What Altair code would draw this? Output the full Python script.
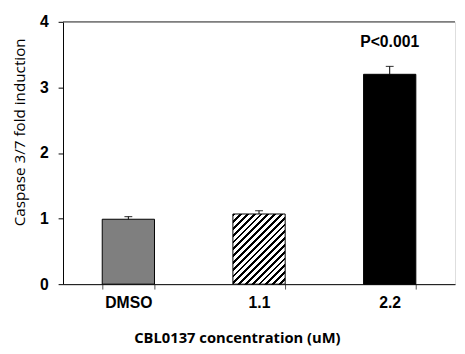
import altair as alt
import pandas as pd

categories = ["DMSO", "1.1", "2.2"]
fold_induction = [0.99, 1.07, 3.20]
sem = [0.04, 0.05, 0.12]
annotations = ["", "", "P<0.001"]

df = pd.DataFrame({
    "cat": categories,
    "val": fold_induction,
    "err": sem,
    "note": annotations,
})
df["top"] = df["val"] + df["err"]

W, H = 399, 267

# Diagonal hatch made from a hard-stop linear gradient
n_periods = 18
stops = []
for i in range(n_periods):
    a = i / n_periods
    b = (i + 0.42) / n_periods
    c = (i + 1) / n_periods
    stops += [
        alt.GradientStop(offset=a, color="black"),
        alt.GradientStop(offset=b, color="black"),
        alt.GradientStop(offset=b, color="white"),
        alt.GradientStop(offset=c, color="white"),
    ]
hatch = alt.LinearGradient(gradient="linear", stops=stops, x1=0, y1=0, x2=0.836, y2=1.122)

x_enc = alt.X(
    "cat:N",
    sort=categories,
    scale=alt.Scale(paddingInner=0.6, paddingOuter=0.3),
    axis=alt.Axis(
        title="CBL0137 concentration (uM)",
        labelAngle=0,
        labelFont="Arial",
        labelFontSize=16,
        labelFontWeight="bold",
        labelColor="black",
        labelPadding=6,
        tickBand="extent",
        tickSize=5,
        tickColor="#555555",
        domainColor="black",
        titleFont="Open Sans",
        titleFontSize=15,
        titleFontWeight="bold",
        titleColor="black",
        titleX=177,
        titleY=54,
        titleBaseline="middle",
    ),
)
y_enc = alt.Y(
    "val:Q",
    scale=alt.Scale(domain=[0, 4], nice=False),
    axis=alt.Axis(
        title="Caspase 3/7  fold induction",
        values=[0, 1, 2, 3, 4],
        format="d",
        grid=False,
        labelFont="Arial",
        labelFontSize=16,
        labelFontWeight="bold",
        labelColor="black",
        labelPadding=10,
        tickSize=5,
        tickColor="black",
        domainColor="black",
        titleFont="Open Sans",
        titleFontSize=15.5,
        titleFontWeight="normal",
        titleColor="black",
        titleX=-44,
        titleY=112,
        titleBaseline="middle",
    ),
)

base = alt.Chart(df)

bar_dmso = base.transform_filter(alt.datum.cat == "DMSO").mark_bar(
    fill="#7f7f7f", stroke="black", strokeWidth=1
).encode(x=x_enc, y=y_enc)
bar_11 = base.transform_filter(alt.datum.cat == "1.1").mark_bar(
    fill=hatch, stroke="black", strokeWidth=1
).encode(x=x_enc, y=y_enc)
bar_22 = base.transform_filter(alt.datum.cat == "2.2").mark_bar(
    fill="black", stroke="black", strokeWidth=1
).encode(x=x_enc, y=y_enc)

err_rule = base.mark_rule(color="black", strokeWidth=1).encode(
    x=alt.X("cat:N", sort=categories), y="val:Q", y2="top:Q"
)
err_cap = base.mark_tick(color="black", orient="horizontal", size=8, thickness=1.2).encode(
    x=alt.X("cat:N", sort=categories), y="top:Q"
)
ptext = base.mark_text(
    font="Arial", fontSize=16, fontWeight="bold", color="black", baseline="middle", dy=-25
).encode(x=alt.X("cat:N", sort=categories), y="top:Q", text="note:N")

top_line = alt.Chart(pd.DataFrame({"y": [4]})).mark_rule(color="#555555", strokeWidth=1.2).encode(
    y="y:Q"
)

chart = alt.layer(bar_dmso, bar_11, bar_22, err_rule, err_cap, ptext, top_line).properties(
    width=W,
    height=H,
    autosize=alt.AutoSizeParams(type="none"),
    padding={"left": 56, "top": 11, "right": 2, "bottom": 68},
    background="white",
).configure_view(stroke="#dddddd")

chart.save("out.html", embed_options={"renderer": "svg", "actions": False})
